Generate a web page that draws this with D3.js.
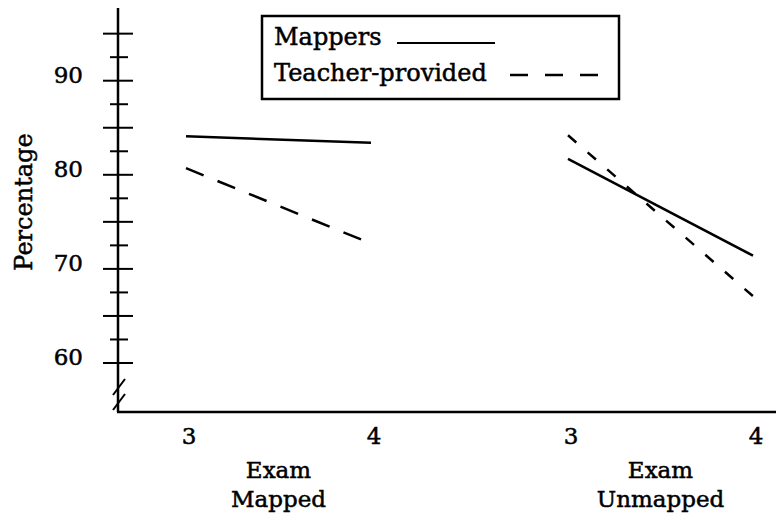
<!DOCTYPE html>
<html>
<head>
<meta charset="utf-8">
<script src="https://cdn.jsdelivr.net/npm/d3@7"></script>
<style>
  html, body { margin: 0; padding: 0; background: #fff; }
  svg { display: block; }
  text { font-family: "DejaVu Serif", "Liberation Serif", serif; fill: #000; stroke: #000; stroke-width: 0.5; }
</style>
</head>
<body>
<svg id="chart" width="776" height="519"></svg>
<script>
// ---- data ----
const conditions = ["Mapped", "Unmapped"];
const exams = ["3", "4"];
const mappers = [84.1, 83.4, 81.7, 71.4];        // Mapped ex3, ex4, Unmapped ex3, ex4
const teacherProvided = [80.7, 72.7, 84.2, 67.1];
const yTickLabels = [60, 70, 80, 90];
const seriesNames = ["Mappers", "Teacher-provided"];

// ---- layout ----
const svg = d3.select("#chart");
const axisX = 118, baseY = 412, axisTop = 8;

const y = d3.scaleLinear().domain([60, 90]).range([363, 80.7]);
const xOuter = d3.scalePoint().domain(conditions).range([186, 568]);
const xInner = d3.scalePoint().domain(exams).range([0, 185]);
const xPos = (c, e) => xOuter(c) + xInner(e);

// ---- axes ----
svg.append("line").attr("x1", axisX).attr("x2", axisX).attr("y1", axisTop).attr("y2", baseY)
  .attr("stroke", "#000").attr("stroke-width", 2.5);
svg.append("line").attr("x1", axisX - 1).attr("x2", 776).attr("y1", baseY).attr("y2", baseY)
  .attr("stroke", "#000").attr("stroke-width", 2.5);

// y ticks: long every 5, short at the halves
const longTicks = d3.range(60, 95.1, 5);
const shortTicks = d3.range(62.5, 95, 5);
svg.selectAll(".lt").data(longTicks).join("line")
  .attr("x1", axisX - 15).attr("x2", axisX + 15)
  .attr("y1", d => y(d)).attr("y2", d => y(d))
  .attr("stroke", "#000").attr("stroke-width", 2);
svg.selectAll(".st").data(shortTicks).join("line")
  .attr("x1", axisX - 8).attr("x2", axisX + 10)
  .attr("y1", d => y(d)).attr("y2", d => y(d))
  .attr("stroke", "#000").attr("stroke-width", 2);
svg.selectAll(".yl").data(yTickLabels).join("text")
  .attr("x", 83).attr("y", d => y(d) - 6)
  .attr("text-anchor", "end").attr("dominant-baseline", "central")
  .attr("font-size", 23).text(d => d);

// axis break
[[395, 379], [410, 394]].forEach(([a, b]) => {
  svg.append("line").attr("x1", axisX - 5).attr("y1", a).attr("x2", axisX + 7).attr("y2", b)
    .attr("stroke", "#000").attr("stroke-width", 2);
});

// x tick labels
conditions.forEach(c => {
  exams.forEach(e => {
    svg.append("text").attr("x", xPos(c, e) + 3).attr("y", 444)
      .attr("text-anchor", "middle").attr("font-size", 23).text(e);
  });
  const mid = (xPos(c, exams[0]) + xPos(c, exams[1])) / 2;
  svg.append("text").attr("x", mid).attr("y", 478).attr("text-anchor", "middle")
    .attr("font-size", 23).text("Exam");
  svg.append("text").attr("x", mid).attr("y", 507).attr("text-anchor", "middle")
    .attr("font-size", 23).text(c);
});

// y axis title
svg.append("text").attr("transform", "translate(32,202) rotate(-90)")
  .attr("text-anchor", "middle").attr("font-size", 24).text("Percentage");

// ---- series lines ----
const line = d3.line().x(d => d.x).y(d => y(d.v));
const dashByCondition = { Mapped: "19,15", Unmapped: "11,15" };
conditions.forEach((c, ci) => {
  const pts = s => exams.map((e, ei) => ({ x: xPos(c, e), v: s[ci * 2 + ei] }));
  svg.append("path").datum(pts(mappers)).attr("d", line)
    .attr("fill", "none").attr("stroke", "#000").attr("stroke-width", 2.5);
  svg.append("path").datum(pts(teacherProvided)).attr("d", line)
    .attr("fill", "none").attr("stroke", "#000").attr("stroke-width", 2.5)
    .attr("stroke-dasharray", dashByCondition[c]);
});

// ---- legend ----
const lg = svg.append("g");
lg.append("rect").attr("x", 262).attr("y", 16).attr("width", 357).attr("height", 83)
  .attr("fill", "#fff").attr("stroke", "#000").attr("stroke-width", 2.5);
lg.append("text").attr("x", 274).attr("y", 45).attr("font-size", 24).text(seriesNames[0]);
lg.append("text").attr("x", 274).attr("y", 81).attr("font-size", 24).text(seriesNames[1]);
lg.append("line").attr("x1", 397).attr("x2", 495).attr("y1", 43).attr("y2", 43)
  .attr("stroke", "#000").attr("stroke-width", 2);
lg.append("line").attr("x1", 510).attr("x2", 600).attr("y1", 75).attr("y2", 75)
  .attr("stroke", "#000").attr("stroke-width", 2.5).attr("stroke-dasharray", "18,17");
</script>
</body>
</html>
